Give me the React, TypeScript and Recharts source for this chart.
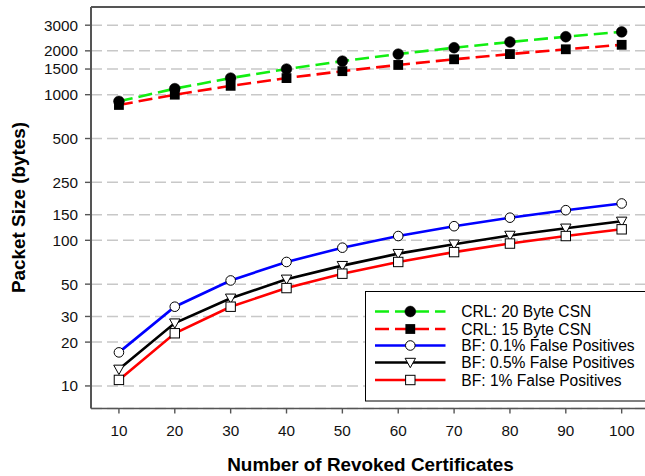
import React from 'react';
import { LineChart, Line, XAxis, YAxis, CartesianGrid, ReferenceLine, Legend, Label } from 'recharts';

const xValues = [10, 20, 30, 40, 50, 60, 70, 80, 90, 100];
const crl20 = [900, 1100, 1300, 1500, 1700, 1900, 2100, 2300, 2500, 2700];
const crl15 = [850, 1000, 1150, 1300, 1450, 1600, 1750, 1900, 2050, 2200];
const bf01 = [17, 35, 53, 71, 89, 107, 125, 143, 161, 179];
const bf05 = [13, 27, 40, 54, 67, 81, 94, 108, 121, 135];
const bf1 = [11, 23, 35, 47, 59, 71, 83, 95, 107, 119];
const yTicks = [10, 20, 30, 50, 100, 150, 250, 500, 1000, 1500, 2000, 3000];
const xTicks = [10, 20, 30, 40, 50, 60, 70, 80, 90, 100];

const seriesNames = [
  'CRL: 20 Byte CSN',
  'CRL: 15 Byte CSN',
  'BF: 0.1% False Positives',
  'BF: 0.5% False Positives',
  'BF: 1% False Positives',
];

const data = xValues.map((x, i) => ({
  x,
  crl20: crl20[i],
  crl15: crl15[i],
  bf01: bf01[i],
  bf05: bf05[i],
  bf1: bf1[i],
}));

type Shape = 'fcircle' | 'fsquare' | 'ocircle' | 'otri' | 'osquare';

const series: { key: string; name: string; color: string; dash?: string; shape: Shape }[] = [
  { key: 'crl20', name: seriesNames[0], color: '#11ee11', dash: '14 6', shape: 'fcircle' },
  { key: 'crl15', name: seriesNames[1], color: '#ff0000', dash: '14 6', shape: 'fsquare' },
  { key: 'bf01', name: seriesNames[2], color: '#0000ff', shape: 'ocircle' },
  { key: 'bf05', name: seriesNames[3], color: '#000000', shape: 'otri' },
  { key: 'bf1', name: seriesNames[4], color: '#ff0000', shape: 'osquare' },
];

const FONT = '"Liberation Sans", Arial, sans-serif';

function marker(shape: Shape, cx: number, cy: number, key?: string | number) {
  switch (shape) {
    case 'fcircle':
      return <circle key={key} cx={cx} cy={cy} r={5.4} fill="#000" stroke="#000" strokeWidth={0.5} />;
    case 'fsquare':
      return <rect key={key} x={cx - 4.9} y={cy - 4.9} width={9.8} height={9.8} fill="#000" />;
    case 'ocircle':
      return <circle key={key} cx={cx} cy={cy} r={4.8} fill="#fff" stroke="#000" strokeWidth={1} />;
    case 'otri':
      return (
        <polygon
          key={key}
          points={`${cx - 5.2},${cy - 4.2} ${cx + 5.2},${cy - 4.2} ${cx},${cy + 5.2}`}
          fill="#fff"
          stroke="#000"
          strokeWidth={1}
        />
      );
    case 'osquare':
    default:
      return <rect key={key} x={cx - 4.7} y={cy - 4.7} width={9.4} height={9.4} fill="#fff" stroke="#000" strokeWidth={1} />;
  }
}

const makeDot = (shape: Shape) => (props: any) => {
  const { cx, cy, index } = props;
  if (cx == null || cy == null) return <g key={`e${index}`} />;
  return marker(shape, cx, cy, `d${index}`);
};

const LegendBox = () => {
  const rowY = [20.5, 38, 54.5, 71.5, 89];
  return (
    <svg width={300} height={112} style={{ display: 'block' }}>
      <rect x={0.5} y={0.5} width={320} height={109.5} fill="#fff" stroke="#000" strokeWidth={1} />
      {series.map((s, i) => (
        <g key={s.key}>
          <line
            x1={10}
            x2={80.5}
            y1={rowY[i]}
            y2={rowY[i]}
            stroke={s.color}
            strokeWidth={2.6}
            strokeDasharray={s.dash}
          />
          {marker(s.shape, 45.3, rowY[i])}
          <text x={96.3} y={rowY[i]} dy="0.36em" fontFamily={FONT} fontSize={15.6} fill="#000">
            {s.name}
          </text>
        </g>
      ))}
    </svg>
  );
};

export default function App() {
  return (
    <div style={{ width: 645, height: 476, overflow: 'hidden', background: '#fff' }}>
      <style>{`body{margin:0;overflow:hidden;}`}</style>
      <LineChart width={660} height={476} data={data} margin={{ top: 7, right: 10.4, bottom: 0, left: 0 }}>
        <CartesianGrid vertical={false} stroke="#c8c8c8" strokeWidth={1.5} strokeDasharray="11 5" />
        <XAxis
          type="number"
          dataKey="x"
          domain={[5, 105]}
          ticks={xTicks}
          interval={0}
          allowDataOverflow
          height={67.5}
          tickSize={5}
          tickMargin={12}
          axisLine={{ stroke: '#555', strokeWidth: 1.6 }}
          tickLine={{ stroke: '#555', strokeWidth: 1.4 }}
          tick={{ fontFamily: FONT, fontSize: 15.3, fill: '#111' }}
        >
          <Label
            content={() => (
              <text x={370.5} y={470.7} textAnchor="middle" fontFamily={FONT} fontWeight="bold" fontSize={18.9} fill="#000">
                Number of Revoked Certificates
              </text>
            )}
          />
        </XAxis>
        <YAxis
          scale="log"
          domain={[7, 4000]}
          allowDataOverflow
          ticks={yTicks}
          interval={0}
          width={91}
          tickSize={6}
          tickMargin={7}
          axisLine={{ stroke: '#555', strokeWidth: 2 }}
          tickLine={{ stroke: '#555', strokeWidth: 1.4 }}
          tick={{ fontFamily: FONT, fontSize: 15.3, fill: '#111' }}
        >
          <Label
            content={() => (
              <text
                x={25}
                y={207.5}
                transform="rotate(-90 25 207.5)"
                textAnchor="middle"
                fontFamily={FONT}
                fontWeight="bold"
                fontSize={18.9}
                fill="#000"
              >
                Packet Size (bytes)
              </text>
            )}
          />
        </YAxis>
        <ReferenceLine y={4000} stroke="#555" strokeWidth={2.2} />
        {series.map((s) => (
          <Line
            key={s.key}
            dataKey={s.key}
            name={s.name}
            type="linear"
            stroke={s.color}
            strokeWidth={2.6}
            strokeDasharray={s.dash}
            dot={makeDot(s.shape)}
            activeDot={false}
            isAnimationActive={false}
          />
        ))}
        <Legend
          layout="horizontal"
          verticalAlign="middle"
          align="center"
          content={() => <LegendBox />}
          wrapperStyle={{ left: 364.7, top: 291.3, width: 300, height: 112 }}
        />
      </LineChart>
    </div>
  );
}
